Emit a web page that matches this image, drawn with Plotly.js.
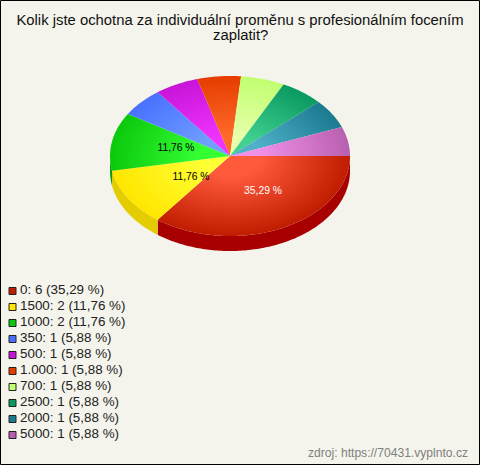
<!DOCTYPE html>
<html>
<head>
<meta charset="utf-8">
<script src="https://cdn.plot.ly/plotly-3.0.1.min.js"></script>
<style>html,body{margin:0;padding:0;background:#f4f4ec;overflow:hidden}#c{width:480px;height:465px}</style>
</head>
<body>
<div id="c"></div>
<script>
const categories = ["0","1500","1000","350","500","1.000","700","2500","2000","5000"];
const counts = [6,2,2,1,1,1,1,1,1,1];
const edgeColors = ["#c01c00","#ffe600","#0cc80c","#4a70ff","#c814d8","#e63c00","#c0ff70","#0a9a60","#1a7a90","#b860b0"];
const centerColors = ["#ff5a3c","#ffff33","#33ff33","#6f9fff","#ee33ff","#ff6a2a","#e8ffaa","#40d090","#50b0c8","#f090e8"];
const sideColors = ["#a80000","#e3cc00","#0a9a0a"];
const titleLine1 = "Kolik jste ochotna za individuální proměnu s profesionálním focením";
const titleLine2 = "zaplatit?";
const sourceText = "zdroj: https://70431.vyplnto.cz";

const total = counts.reduce((a,b)=>a+b,0);
const pct = v => (v/total*100).toFixed(2).replace('.',',') + ' %';
const rad = d => d*Math.PI/180;
const DEPTH = 0.1875;
const px = d => Math.cos(rad(d));
const py = d => -Math.sin(rad(d));

let traces = [], tops = [], a = 0;
const common = {xaxis:'x', yaxis:'y', mode:'lines', line:{width:0,simplify:false}, fill:'toself', hoverinfo:'skip', showlegend:false};
counts.forEach((v,i)=>{
  const s = a, e = a + v/total*360; a = e;
  // side wall for the part of the slice facing the viewer
  const s2 = Math.max(s,0), e2 = Math.min(e,180);
  if (s2 < e2) {
    const xs=[], ys=[];
    for (let d=s2; d<e2; d+=1){xs.push(px(d));ys.push(py(d));}
    xs.push(px(e2));ys.push(py(e2));
    for (let d=e2; d>s2; d-=1){xs.push(px(d));ys.push(py(d)-DEPTH);}
    xs.push(px(s2));ys.push(py(s2)-DEPTH);
    traces.push({...common, x:xs, y:ys, fillcolor:sideColors[i]});
  }
  // top: zero-area spikes make the bounding box the whole ellipse, so the radial gradient centres on the pie
  const xs=[0,1,0,-1,0,0,0,0,0], ys=[0,0,0,0,0,1,0,-1,0];
  for (let d=s; d<e; d+=1){xs.push(px(d));ys.push(py(d));}
  xs.push(px(e));ys.push(py(e));xs.push(0);ys.push(0);
  tops.push({...common, x:xs, y:ys, fillgradient:{type:'radial',colorscale:[[0,centerColors[i]],[0.25,centerColors[i]],[1,edgeColors[i]]]}});
});
traces = traces.concat(tops);

// value labels (slices above 10 %)
const labelRadiusX = [0.617,0.382,0.458], labelRadiusY = [0.489,0.50,0.54];
let cum = 0; const lx=[], ly=[], lt=[], lc=[];
counts.forEach((v,i)=>{
  const mid = (cum + v/2)/total*360; cum += v;
  if (v/total > 0.1) {
    lx.push(px(mid)*labelRadiusX[i]); ly.push(py(mid)*labelRadiusY[i]);
    lt.push(pct(v)); lc.push(i===0?'#ffffff':'#000000');
  }
});
traces.push({x:lx,y:ly,text:lt,mode:'text',textposition:'middle center',
  textfont:{family:'Liberation Sans',size:10.3,color:lc},hoverinfo:'skip',showlegend:false,xaxis:'x',yaxis:'y'});

// legend rows
const rows = counts.map((v,i)=>i);
traces.push({x:rows.map(()=>0),y:rows,mode:'markers',
  marker:{symbol:'square',size:7,color:edgeColors,line:{color:'#222',width:1}},
  hoverinfo:'skip',showlegend:false,xaxis:'x2',yaxis:'y2'});
traces.push({x:rows.map(()=>7.5),y:rows,text:counts.map((v,i)=>`${categories[i]}: ${v} (${pct(v)})`),
  mode:'text',textposition:'middle right',
  textfont:{family:'Liberation Sans',size:13.4,color:'#222'},hoverinfo:'skip',showlegend:false,xaxis:'x2',yaxis:'y2'});

const W=480,H=465;
const layout = {
  width:W,height:H,margin:{l:0,r:0,t:0,b:0},paper_bgcolor:'#f4f4ec',plot_bgcolor:'rgba(0,0,0,0)',
  showlegend:false,
  title:{text:titleLine1,font:{family:'Liberation Sans',size:14.85,color:'#111'},x:0.5,xanchor:'center',y:1-20/H,yanchor:'middle'},
  xaxis:{domain:[104/W,356/W],range:[-1.05,1.05],visible:false,fixedrange:true},
  yaxis:{domain:[(H-260)/H,(H-72)/H],range:[-1.3,1.05],visible:false,fixedrange:true},
  xaxis2:{domain:[0,160/W],range:[-12.5,147.5],visible:false,fixedrange:true},
  yaxis2:{domain:[(H-443)/H,(H-283)/H],range:[9.5,-0.5],visible:false,fixedrange:true},
  annotations:[
   {xref:'paper',yref:'paper',x:0.5,y:1-35/H,xanchor:'center',yanchor:'middle',showarrow:false,
    text:titleLine2,font:{family:'Liberation Sans',size:14.85,color:'#111'}},
   {xref:'paper',yref:'paper',x:1-10/W,y:1-453/H,xanchor:'right',yanchor:'middle',showarrow:false,
    text:sourceText,font:{family:'Liberation Sans',size:12.1,color:'#808080'}}],
  shapes:[{type:'rect',xref:'paper',yref:'paper',x0:0.5/W,x1:1-0.5/W,y0:0.5/H,y1:1-0.5/H,line:{color:'#000',width:1}}]
};
Plotly.newPlot('c',traces,layout,{displayModeBar:false,staticPlot:true});
</script>
</body>
</html>
